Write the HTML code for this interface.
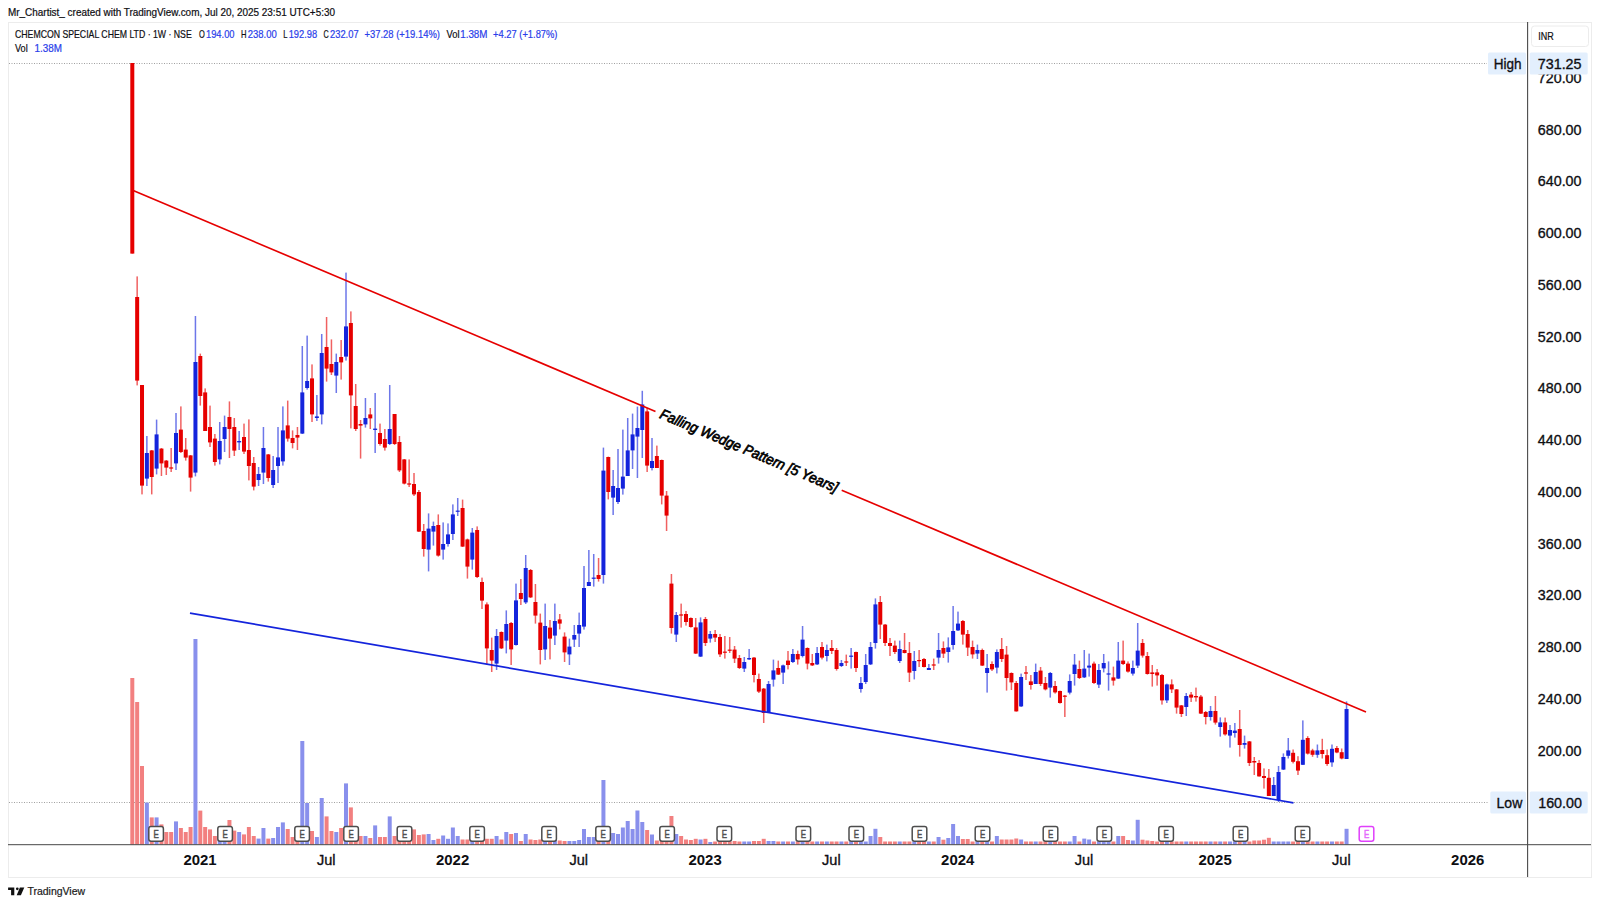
<!DOCTYPE html>
<html lang="en"><head><meta charset="utf-8"><title>CHEMCON SPECIAL CHEM LTD - 1W - NSE</title>
<style>html,body{margin:0;padding:0;background:#fff;width:1600px;height:906px;overflow:hidden}svg{display:block}text{white-space:pre}</style></head>
<body>
<svg width="1600" height="906" viewBox="0 0 1600 906" font-family='"Liberation Sans", sans-serif'>
<rect width="1600" height="906" fill="#fff"/>
<rect x="8.5" y="22.5" width="1583" height="855" fill="none" stroke="#ececec" stroke-width="1"/>
<g stroke="#a0a0a0" stroke-width="1" stroke-dasharray="1 1.5">
<line x1="9" y1="63.5" x2="1487" y2="63.5"/>
<line x1="9" y1="802.5" x2="1489" y2="802.5"/>
</g>
<g><rect x="130.30" y="678.0" width="4" height="166.5" fill="#f28080"/><rect x="135.16" y="702.0" width="4" height="142.5" fill="#f28080"/><rect x="140.01" y="766.0" width="4" height="78.5" fill="#f28080"/><rect x="144.87" y="802.6" width="4" height="41.9" fill="#8990ec"/><rect x="149.73" y="817.4" width="4" height="27.1" fill="#f28080"/><rect x="154.59" y="817.4" width="4" height="27.1" fill="#8990ec"/><rect x="159.44" y="824.4" width="4" height="20.1" fill="#f28080"/><rect x="164.30" y="832.0" width="4" height="12.5" fill="#f28080"/><rect x="169.16" y="832.0" width="4" height="12.5" fill="#f28080"/><rect x="174.01" y="821.4" width="4" height="23.1" fill="#8990ec"/><rect x="178.87" y="828.0" width="4" height="16.5" fill="#f28080"/><rect x="183.73" y="832.0" width="4" height="12.5" fill="#f28080"/><rect x="188.58" y="827.0" width="4" height="17.5" fill="#f28080"/><rect x="193.44" y="639.0" width="4" height="205.5" fill="#8990ec"/><rect x="198.30" y="810.6" width="4" height="33.9" fill="#f28080"/><rect x="203.16" y="827.0" width="4" height="17.5" fill="#f28080"/><rect x="208.01" y="829.4" width="4" height="15.1" fill="#f28080"/><rect x="212.87" y="836.0" width="4" height="8.5" fill="#f28080"/><rect x="217.73" y="836.0" width="4" height="8.5" fill="#8990ec"/><rect x="222.58" y="836.0" width="4" height="8.5" fill="#8990ec"/><rect x="227.44" y="820.0" width="4" height="24.5" fill="#f28080"/><rect x="232.30" y="830.6" width="4" height="13.9" fill="#f28080"/><rect x="237.15" y="832.0" width="4" height="12.5" fill="#8990ec"/><rect x="242.01" y="834.4" width="4" height="10.1" fill="#f28080"/><rect x="246.87" y="827.0" width="4" height="17.5" fill="#f28080"/><rect x="251.73" y="836.0" width="4" height="8.5" fill="#f28080"/><rect x="256.58" y="838.6" width="4" height="5.9" fill="#8990ec"/><rect x="261.44" y="828.0" width="4" height="16.5" fill="#8990ec"/><rect x="266.30" y="838.6" width="4" height="5.9" fill="#f28080"/><rect x="271.15" y="838.0" width="4" height="6.5" fill="#8990ec"/><rect x="276.01" y="827.0" width="4" height="17.5" fill="#8990ec"/><rect x="280.87" y="822.4" width="4" height="22.1" fill="#8990ec"/><rect x="285.72" y="829.0" width="4" height="15.5" fill="#f28080"/><rect x="290.58" y="837.0" width="4" height="7.5" fill="#f28080"/><rect x="295.44" y="838.0" width="4" height="6.5" fill="#f28080"/><rect x="300.30" y="741.0" width="4" height="103.5" fill="#8990ec"/><rect x="305.15" y="803.0" width="4" height="41.5" fill="#8990ec"/><rect x="310.01" y="831.0" width="4" height="13.5" fill="#f28080"/><rect x="314.87" y="837.0" width="4" height="7.5" fill="#8990ec"/><rect x="319.72" y="798.0" width="4" height="46.5" fill="#8990ec"/><rect x="324.58" y="816.4" width="4" height="28.1" fill="#f28080"/><rect x="329.44" y="831.0" width="4" height="13.5" fill="#f28080"/><rect x="334.29" y="832.0" width="4" height="12.5" fill="#8990ec"/><rect x="339.15" y="828.0" width="4" height="16.5" fill="#f28080"/><rect x="344.01" y="783.4" width="4" height="61.1" fill="#8990ec"/><rect x="348.87" y="807.4" width="4" height="37.1" fill="#f28080"/><rect x="353.72" y="830.0" width="4" height="14.5" fill="#f28080"/><rect x="358.58" y="836.0" width="4" height="8.5" fill="#f28080"/><rect x="363.44" y="836.0" width="4" height="8.5" fill="#8990ec"/><rect x="368.29" y="838.0" width="4" height="6.5" fill="#f28080"/><rect x="373.15" y="825.4" width="4" height="19.1" fill="#8990ec"/><rect x="378.01" y="837.0" width="4" height="7.5" fill="#f28080"/><rect x="382.86" y="837.0" width="4" height="7.5" fill="#f28080"/><rect x="387.72" y="816.4" width="4" height="28.1" fill="#8990ec"/><rect x="392.58" y="836.0" width="4" height="8.5" fill="#f28080"/><rect x="397.44" y="834.0" width="4" height="10.5" fill="#f28080"/><rect x="402.29" y="834.0" width="4" height="10.5" fill="#f28080"/><rect x="407.15" y="834.4" width="4" height="10.1" fill="#f28080"/><rect x="412.01" y="829.4" width="4" height="15.1" fill="#f28080"/><rect x="416.86" y="835.0" width="4" height="9.5" fill="#f28080"/><rect x="421.72" y="834.4" width="4" height="10.1" fill="#f28080"/><rect x="426.58" y="834.0" width="4" height="10.5" fill="#8990ec"/><rect x="431.43" y="840.0" width="4" height="4.5" fill="#8990ec"/><rect x="436.29" y="838.8" width="4" height="5.8" fill="#f28080"/><rect x="441.15" y="835.5" width="4" height="9.0" fill="#8990ec"/><rect x="446.01" y="838.8" width="4" height="5.8" fill="#8990ec"/><rect x="450.86" y="827.5" width="4" height="17.0" fill="#8990ec"/><rect x="455.72" y="836.0" width="4" height="8.5" fill="#8990ec"/><rect x="460.58" y="839.5" width="4" height="5.0" fill="#f28080"/><rect x="465.43" y="839.5" width="4" height="5.0" fill="#f28080"/><rect x="470.29" y="838.0" width="4" height="6.5" fill="#8990ec"/><rect x="475.15" y="838.0" width="4" height="6.5" fill="#f28080"/><rect x="480.00" y="838.0" width="4" height="6.5" fill="#f28080"/><rect x="484.86" y="838.8" width="4" height="5.8" fill="#f28080"/><rect x="489.72" y="838.8" width="4" height="5.8" fill="#f28080"/><rect x="494.58" y="836.0" width="4" height="8.5" fill="#8990ec"/><rect x="499.43" y="839.5" width="4" height="5.0" fill="#f28080"/><rect x="504.29" y="832.0" width="4" height="12.5" fill="#8990ec"/><rect x="509.15" y="834.0" width="4" height="10.5" fill="#f28080"/><rect x="514.00" y="833.0" width="4" height="11.5" fill="#8990ec"/><rect x="518.86" y="841.0" width="4" height="3.5" fill="#f28080"/><rect x="523.72" y="834.0" width="4" height="10.5" fill="#8990ec"/><rect x="528.57" y="839.5" width="4" height="5.0" fill="#f28080"/><rect x="533.43" y="840.0" width="4" height="4.5" fill="#f28080"/><rect x="538.29" y="839.5" width="4" height="5.0" fill="#f28080"/><rect x="543.14" y="838.0" width="4" height="6.5" fill="#8990ec"/><rect x="548.00" y="839.0" width="4" height="5.5" fill="#f28080"/><rect x="552.86" y="838.0" width="4" height="6.5" fill="#8990ec"/><rect x="557.72" y="840.5" width="4" height="4.0" fill="#f28080"/><rect x="562.57" y="841.0" width="4" height="3.5" fill="#f28080"/><rect x="567.43" y="841.0" width="4" height="3.5" fill="#8990ec"/><rect x="572.29" y="841.0" width="4" height="3.5" fill="#8990ec"/><rect x="577.14" y="840.0" width="4" height="4.5" fill="#8990ec"/><rect x="582.00" y="829.0" width="4" height="15.5" fill="#8990ec"/><rect x="586.86" y="837.0" width="4" height="7.5" fill="#8990ec"/><rect x="591.72" y="837.0" width="4" height="7.5" fill="#8990ec"/><rect x="596.57" y="838.0" width="4" height="6.5" fill="#f28080"/><rect x="601.43" y="780.0" width="4" height="64.5" fill="#8990ec"/><rect x="606.29" y="834.0" width="4" height="10.5" fill="#f28080"/><rect x="611.14" y="833.0" width="4" height="11.5" fill="#8990ec"/><rect x="616.00" y="834.0" width="4" height="10.5" fill="#8990ec"/><rect x="620.86" y="827.5" width="4" height="17.0" fill="#8990ec"/><rect x="625.71" y="821.0" width="4" height="23.5" fill="#8990ec"/><rect x="630.57" y="829.0" width="4" height="15.5" fill="#8990ec"/><rect x="635.43" y="810.5" width="4" height="34.0" fill="#8990ec"/><rect x="640.29" y="822.0" width="4" height="22.5" fill="#8990ec"/><rect x="645.14" y="830.0" width="4" height="14.5" fill="#f28080"/><rect x="650.00" y="834.5" width="4" height="10.0" fill="#8990ec"/><rect x="654.86" y="840.5" width="4" height="4.0" fill="#f28080"/><rect x="659.71" y="838.0" width="4" height="6.5" fill="#f28080"/><rect x="664.57" y="836.0" width="4" height="8.5" fill="#f28080"/><rect x="669.43" y="816.0" width="4" height="28.5" fill="#f28080"/><rect x="674.28" y="834.0" width="4" height="10.5" fill="#8990ec"/><rect x="679.14" y="836.0" width="4" height="8.5" fill="#f28080"/><rect x="684.00" y="839.5" width="4" height="5.0" fill="#f28080"/><rect x="688.86" y="840.0" width="4" height="4.5" fill="#f28080"/><rect x="693.71" y="838.8" width="4" height="5.8" fill="#f28080"/><rect x="698.57" y="839.5" width="4" height="5.0" fill="#8990ec"/><rect x="703.43" y="838.8" width="4" height="5.8" fill="#f28080"/><rect x="708.28" y="842.0" width="4" height="2.5" fill="#8990ec"/><rect x="713.14" y="841.5" width="4" height="3.0" fill="#f28080"/><rect x="718.00" y="841.5" width="4" height="3.0" fill="#f28080"/><rect x="722.85" y="841.5" width="4" height="3.0" fill="#f28080"/><rect x="727.71" y="841.5" width="4" height="3.0" fill="#f28080"/><rect x="732.57" y="841.0" width="4" height="3.5" fill="#f28080"/><rect x="737.42" y="841.5" width="4" height="3.0" fill="#f28080"/><rect x="742.28" y="841.5" width="4" height="3.0" fill="#8990ec"/><rect x="747.14" y="841.5" width="4" height="3.0" fill="#8990ec"/><rect x="752.00" y="841.0" width="4" height="3.5" fill="#f28080"/><rect x="756.85" y="841.0" width="4" height="3.5" fill="#f28080"/><rect x="761.71" y="838.8" width="4" height="5.8" fill="#f28080"/><rect x="766.57" y="841.0" width="4" height="3.5" fill="#8990ec"/><rect x="771.42" y="841.0" width="4" height="3.5" fill="#8990ec"/><rect x="776.28" y="841.5" width="4" height="3.0" fill="#f28080"/><rect x="781.14" y="841.5" width="4" height="3.0" fill="#8990ec"/><rect x="786.00" y="841.5" width="4" height="3.0" fill="#f28080"/><rect x="790.85" y="841.5" width="4" height="3.0" fill="#8990ec"/><rect x="795.71" y="841.5" width="4" height="3.0" fill="#f28080"/><rect x="800.57" y="841.5" width="4" height="3.0" fill="#8990ec"/><rect x="805.42" y="841.5" width="4" height="3.0" fill="#f28080"/><rect x="810.28" y="841.5" width="4" height="3.0" fill="#f28080"/><rect x="815.14" y="841.5" width="4" height="3.0" fill="#8990ec"/><rect x="819.99" y="841.5" width="4" height="3.0" fill="#f28080"/><rect x="824.85" y="841.5" width="4" height="3.0" fill="#8990ec"/><rect x="829.71" y="841.5" width="4" height="3.0" fill="#f28080"/><rect x="834.57" y="841.5" width="4" height="3.0" fill="#f28080"/><rect x="839.42" y="841.5" width="4" height="3.0" fill="#8990ec"/><rect x="844.28" y="841.5" width="4" height="3.0" fill="#f28080"/><rect x="849.14" y="841.5" width="4" height="3.0" fill="#8990ec"/><rect x="853.99" y="841.5" width="4" height="3.0" fill="#f28080"/><rect x="858.85" y="841.5" width="4" height="3.0" fill="#8990ec"/><rect x="863.71" y="841.5" width="4" height="3.0" fill="#8990ec"/><rect x="868.56" y="836.0" width="4" height="8.5" fill="#8990ec"/><rect x="873.42" y="828.8" width="4" height="15.7" fill="#8990ec"/><rect x="878.28" y="837.0" width="4" height="7.5" fill="#f28080"/><rect x="883.13" y="841.5" width="4" height="3.0" fill="#f28080"/><rect x="887.99" y="841.5" width="4" height="3.0" fill="#f28080"/><rect x="892.85" y="841.5" width="4" height="3.0" fill="#f28080"/><rect x="897.71" y="841.5" width="4" height="3.0" fill="#8990ec"/><rect x="902.56" y="841.5" width="4" height="3.0" fill="#f28080"/><rect x="907.42" y="841.5" width="4" height="3.0" fill="#f28080"/><rect x="912.28" y="841.5" width="4" height="3.0" fill="#8990ec"/><rect x="917.13" y="841.5" width="4" height="3.0" fill="#f28080"/><rect x="921.99" y="841.5" width="4" height="3.0" fill="#f28080"/><rect x="926.85" y="841.5" width="4" height="3.0" fill="#8990ec"/><rect x="931.71" y="841.5" width="4" height="3.0" fill="#f28080"/><rect x="936.56" y="837.0" width="4" height="7.5" fill="#8990ec"/><rect x="941.42" y="839.7" width="4" height="4.8" fill="#f28080"/><rect x="946.28" y="838.0" width="4" height="6.5" fill="#8990ec"/><rect x="951.13" y="824.0" width="4" height="20.5" fill="#8990ec"/><rect x="955.99" y="836.0" width="4" height="8.5" fill="#8990ec"/><rect x="960.85" y="839.0" width="4" height="5.5" fill="#f28080"/><rect x="965.70" y="839.0" width="4" height="5.5" fill="#f28080"/><rect x="970.56" y="841.5" width="4" height="3.0" fill="#f28080"/><rect x="975.42" y="841.5" width="4" height="3.0" fill="#8990ec"/><rect x="980.28" y="841.5" width="4" height="3.0" fill="#f28080"/><rect x="985.13" y="841.5" width="4" height="3.0" fill="#8990ec"/><rect x="989.99" y="841.5" width="4" height="3.0" fill="#f28080"/><rect x="994.85" y="836.0" width="4" height="8.5" fill="#8990ec"/><rect x="999.70" y="839.5" width="4" height="5.0" fill="#f28080"/><rect x="1004.56" y="839.5" width="4" height="5.0" fill="#f28080"/><rect x="1009.42" y="839.5" width="4" height="5.0" fill="#f28080"/><rect x="1014.27" y="838.5" width="4" height="6.0" fill="#f28080"/><rect x="1019.13" y="839.5" width="4" height="5.0" fill="#8990ec"/><rect x="1023.99" y="841.5" width="4" height="3.0" fill="#f28080"/><rect x="1028.85" y="841.5" width="4" height="3.0" fill="#f28080"/><rect x="1033.70" y="841.5" width="4" height="3.0" fill="#8990ec"/><rect x="1038.56" y="841.5" width="4" height="3.0" fill="#f28080"/><rect x="1043.42" y="841.5" width="4" height="3.0" fill="#f28080"/><rect x="1048.27" y="841.5" width="4" height="3.0" fill="#8990ec"/><rect x="1053.13" y="841.5" width="4" height="3.0" fill="#f28080"/><rect x="1057.99" y="841.5" width="4" height="3.0" fill="#f28080"/><rect x="1062.84" y="841.5" width="4" height="3.0" fill="#f28080"/><rect x="1067.70" y="841.5" width="4" height="3.0" fill="#8990ec"/><rect x="1072.56" y="836.0" width="4" height="8.5" fill="#8990ec"/><rect x="1077.41" y="841.5" width="4" height="3.0" fill="#f28080"/><rect x="1082.27" y="838.6" width="4" height="5.9" fill="#8990ec"/><rect x="1087.13" y="839.5" width="4" height="5.0" fill="#8990ec"/><rect x="1091.99" y="841.5" width="4" height="3.0" fill="#f28080"/><rect x="1096.84" y="841.5" width="4" height="3.0" fill="#8990ec"/><rect x="1101.70" y="841.5" width="4" height="3.0" fill="#8990ec"/><rect x="1106.56" y="841.5" width="4" height="3.0" fill="#8990ec"/><rect x="1111.41" y="841.5" width="4" height="3.0" fill="#f28080"/><rect x="1116.27" y="836.0" width="4" height="8.5" fill="#8990ec"/><rect x="1121.13" y="836.0" width="4" height="8.5" fill="#f28080"/><rect x="1125.99" y="840.0" width="4" height="4.5" fill="#f28080"/><rect x="1130.84" y="840.5" width="4" height="4.0" fill="#8990ec"/><rect x="1135.70" y="819.8" width="4" height="24.7" fill="#8990ec"/><rect x="1140.56" y="839.7" width="4" height="4.8" fill="#f28080"/><rect x="1145.41" y="840.5" width="4" height="4.0" fill="#f28080"/><rect x="1150.27" y="841.0" width="4" height="3.5" fill="#f28080"/><rect x="1155.13" y="841.5" width="4" height="3.0" fill="#f28080"/><rect x="1159.98" y="841.5" width="4" height="3.0" fill="#f28080"/><rect x="1164.84" y="841.5" width="4" height="3.0" fill="#8990ec"/><rect x="1169.70" y="841.5" width="4" height="3.0" fill="#f28080"/><rect x="1174.56" y="841.5" width="4" height="3.0" fill="#f28080"/><rect x="1179.41" y="841.5" width="4" height="3.0" fill="#f28080"/><rect x="1184.27" y="841.5" width="4" height="3.0" fill="#8990ec"/><rect x="1189.13" y="841.5" width="4" height="3.0" fill="#f28080"/><rect x="1193.98" y="841.5" width="4" height="3.0" fill="#f28080"/><rect x="1198.84" y="841.5" width="4" height="3.0" fill="#f28080"/><rect x="1203.70" y="841.5" width="4" height="3.0" fill="#f28080"/><rect x="1208.55" y="841.5" width="4" height="3.0" fill="#8990ec"/><rect x="1213.41" y="841.5" width="4" height="3.0" fill="#f28080"/><rect x="1218.27" y="841.5" width="4" height="3.0" fill="#8990ec"/><rect x="1223.12" y="841.5" width="4" height="3.0" fill="#f28080"/><rect x="1227.98" y="841.5" width="4" height="3.0" fill="#8990ec"/><rect x="1232.84" y="841.5" width="4" height="3.0" fill="#8990ec"/><rect x="1237.70" y="841.5" width="4" height="3.0" fill="#f28080"/><rect x="1242.55" y="841.5" width="4" height="3.0" fill="#8990ec"/><rect x="1247.41" y="841.5" width="4" height="3.0" fill="#f28080"/><rect x="1252.27" y="840.5" width="4" height="4.0" fill="#f28080"/><rect x="1257.12" y="840.5" width="4" height="4.0" fill="#f28080"/><rect x="1261.98" y="839.7" width="4" height="4.8" fill="#f28080"/><rect x="1266.84" y="837.8" width="4" height="6.7" fill="#f28080"/><rect x="1271.69" y="841.5" width="4" height="3.0" fill="#8990ec"/><rect x="1276.55" y="841.5" width="4" height="3.0" fill="#8990ec"/><rect x="1281.41" y="841.5" width="4" height="3.0" fill="#8990ec"/><rect x="1286.27" y="841.5" width="4" height="3.0" fill="#8990ec"/><rect x="1291.12" y="841.5" width="4" height="3.0" fill="#f28080"/><rect x="1295.98" y="841.5" width="4" height="3.0" fill="#f28080"/><rect x="1300.84" y="841.5" width="4" height="3.0" fill="#8990ec"/><rect x="1305.69" y="841.5" width="4" height="3.0" fill="#f28080"/><rect x="1310.55" y="841.5" width="4" height="3.0" fill="#f28080"/><rect x="1315.41" y="841.5" width="4" height="3.0" fill="#8990ec"/><rect x="1320.27" y="841.5" width="4" height="3.0" fill="#f28080"/><rect x="1325.12" y="841.5" width="4" height="3.0" fill="#f28080"/><rect x="1329.98" y="841.5" width="4" height="3.0" fill="#8990ec"/><rect x="1334.84" y="841.5" width="4" height="3.0" fill="#f28080"/><rect x="1339.69" y="841.5" width="4" height="3.0" fill="#f28080"/><rect x="1344.55" y="828.8" width="4" height="15.7" fill="#8990ec"/></g>
<g><rect x="131.55" y="63.0" width="1.5" height="190.6" fill="#e60000" opacity="0.62"/><rect x="136.41" y="276.4" width="1.5" height="109.0" fill="#e60000" opacity="0.62"/><rect x="141.26" y="385.0" width="1.5" height="109.4" fill="#e60000" opacity="0.62"/><rect x="146.12" y="436.0" width="1.5" height="50.0" fill="#1424dc" opacity="0.62"/><rect x="150.98" y="450.0" width="1.5" height="44.4" fill="#e60000" opacity="0.62"/><rect x="155.84" y="419.6" width="1.5" height="54.8" fill="#1424dc" opacity="0.62"/><rect x="160.69" y="448.0" width="1.5" height="28.0" fill="#e60000" opacity="0.62"/><rect x="165.55" y="460.0" width="1.5" height="15.0" fill="#e60000" opacity="0.62"/><rect x="170.41" y="448.0" width="1.5" height="24.0" fill="#e60000" opacity="0.62"/><rect x="175.26" y="413.0" width="1.5" height="57.0" fill="#1424dc" opacity="0.62"/><rect x="180.12" y="406.4" width="1.5" height="46.6" fill="#e60000" opacity="0.62"/><rect x="184.98" y="438.0" width="1.5" height="22.6" fill="#e60000" opacity="0.62"/><rect x="189.83" y="455.0" width="1.5" height="36.6" fill="#e60000" opacity="0.62"/><rect x="194.69" y="316.0" width="1.5" height="160.4" fill="#1424dc" opacity="0.62"/><rect x="199.55" y="353.6" width="1.5" height="52.0" fill="#e60000" opacity="0.62"/><rect x="204.41" y="388.4" width="1.5" height="42.6" fill="#e60000" opacity="0.62"/><rect x="209.26" y="405.6" width="1.5" height="41.4" fill="#e60000" opacity="0.62"/><rect x="214.12" y="434.0" width="1.5" height="31.6" fill="#e60000" opacity="0.62"/><rect x="218.98" y="422.0" width="1.5" height="42.4" fill="#1424dc" opacity="0.62"/><rect x="223.83" y="415.6" width="1.5" height="36.4" fill="#1424dc" opacity="0.62"/><rect x="228.69" y="401.4" width="1.5" height="56.6" fill="#e60000" opacity="0.62"/><rect x="233.55" y="418.0" width="1.5" height="38.0" fill="#e60000" opacity="0.62"/><rect x="238.40" y="431.0" width="1.5" height="19.0" fill="#1424dc" opacity="0.62"/><rect x="243.26" y="423.6" width="1.5" height="30.4" fill="#e60000" opacity="0.62"/><rect x="248.12" y="419.4" width="1.5" height="61.0" fill="#e60000" opacity="0.62"/><rect x="252.98" y="457.0" width="1.5" height="33.4" fill="#e60000" opacity="0.62"/><rect x="257.83" y="467.0" width="1.5" height="19.0" fill="#1424dc" opacity="0.62"/><rect x="262.69" y="427.0" width="1.5" height="57.0" fill="#1424dc" opacity="0.62"/><rect x="267.55" y="454.0" width="1.5" height="27.6" fill="#e60000" opacity="0.62"/><rect x="272.40" y="456.0" width="1.5" height="32.0" fill="#1424dc" opacity="0.62"/><rect x="277.26" y="427.0" width="1.5" height="56.0" fill="#1424dc" opacity="0.62"/><rect x="282.12" y="406.4" width="1.5" height="59.2" fill="#1424dc" opacity="0.62"/><rect x="286.97" y="400.6" width="1.5" height="41.0" fill="#e60000" opacity="0.62"/><rect x="291.83" y="430.4" width="1.5" height="18.0" fill="#e60000" opacity="0.62"/><rect x="296.69" y="427.0" width="1.5" height="23.0" fill="#e60000" opacity="0.62"/><rect x="301.55" y="346.0" width="1.5" height="88.0" fill="#1424dc" opacity="0.62"/><rect x="306.40" y="335.6" width="1.5" height="54.0" fill="#1424dc" opacity="0.62"/><rect x="311.26" y="364.4" width="1.5" height="57.6" fill="#e60000" opacity="0.62"/><rect x="316.12" y="395.0" width="1.5" height="26.0" fill="#1424dc" opacity="0.62"/><rect x="320.97" y="334.0" width="1.5" height="90.4" fill="#1424dc" opacity="0.62"/><rect x="325.83" y="317.0" width="1.5" height="64.6" fill="#e60000" opacity="0.62"/><rect x="330.69" y="339.4" width="1.5" height="35.6" fill="#e60000" opacity="0.62"/><rect x="335.54" y="353.6" width="1.5" height="39.4" fill="#1424dc" opacity="0.62"/><rect x="340.40" y="340.0" width="1.5" height="39.6" fill="#e60000" opacity="0.62"/><rect x="345.26" y="272.6" width="1.5" height="88.0" fill="#1424dc" opacity="0.62"/><rect x="350.12" y="311.4" width="1.5" height="117.0" fill="#e60000" opacity="0.62"/><rect x="354.97" y="384.0" width="1.5" height="47.0" fill="#e60000" opacity="0.62"/><rect x="359.83" y="420.0" width="1.5" height="38.6" fill="#e60000" opacity="0.62"/><rect x="364.69" y="398.0" width="1.5" height="29.6" fill="#1424dc" opacity="0.62"/><rect x="369.54" y="408.0" width="1.5" height="21.0" fill="#e60000" opacity="0.62"/><rect x="374.40" y="393.0" width="1.5" height="60.0" fill="#1424dc" opacity="0.62"/><rect x="379.26" y="423.6" width="1.5" height="22.0" fill="#e60000" opacity="0.62"/><rect x="384.11" y="429.0" width="1.5" height="21.6" fill="#e60000" opacity="0.62"/><rect x="388.97" y="385.0" width="1.5" height="60.0" fill="#1424dc" opacity="0.62"/><rect x="393.83" y="414.0" width="1.5" height="31.0" fill="#e60000" opacity="0.62"/><rect x="398.69" y="436.0" width="1.5" height="36.0" fill="#e60000" opacity="0.62"/><rect x="403.54" y="459.0" width="1.5" height="25.4" fill="#e60000" opacity="0.62"/><rect x="408.40" y="459.4" width="1.5" height="27.6" fill="#e60000" opacity="0.62"/><rect x="413.26" y="473.0" width="1.5" height="23.0" fill="#e60000" opacity="0.62"/><rect x="418.11" y="490.0" width="1.5" height="42.0" fill="#e60000" opacity="0.62"/><rect x="422.97" y="524.0" width="1.5" height="32.6" fill="#e60000" opacity="0.62"/><rect x="427.83" y="513.4" width="1.5" height="58.0" fill="#1424dc" opacity="0.62"/><rect x="432.68" y="521.6" width="1.5" height="24.0" fill="#1424dc" opacity="0.62"/><rect x="437.54" y="514.4" width="1.5" height="42.2" fill="#e60000" opacity="0.62"/><rect x="442.40" y="522.4" width="1.5" height="37.2" fill="#1424dc" opacity="0.62"/><rect x="447.26" y="523.4" width="1.5" height="23.2" fill="#1424dc" opacity="0.62"/><rect x="452.11" y="504.4" width="1.5" height="35.6" fill="#1424dc" opacity="0.62"/><rect x="456.97" y="498.0" width="1.5" height="18.0" fill="#1424dc" opacity="0.62"/><rect x="461.83" y="499.6" width="1.5" height="47.4" fill="#e60000" opacity="0.62"/><rect x="466.68" y="538.6" width="1.5" height="40.0" fill="#e60000" opacity="0.62"/><rect x="471.54" y="528.0" width="1.5" height="41.6" fill="#1424dc" opacity="0.62"/><rect x="476.40" y="526.4" width="1.5" height="51.6" fill="#e60000" opacity="0.62"/><rect x="481.25" y="577.6" width="1.5" height="31.4" fill="#e60000" opacity="0.62"/><rect x="486.11" y="602.4" width="1.5" height="62.6" fill="#e60000" opacity="0.62"/><rect x="490.97" y="637.6" width="1.5" height="34.4" fill="#e60000" opacity="0.62"/><rect x="495.83" y="629.0" width="1.5" height="41.0" fill="#1424dc" opacity="0.62"/><rect x="500.68" y="631.4" width="1.5" height="17.6" fill="#e60000" opacity="0.62"/><rect x="505.54" y="610.4" width="1.5" height="43.0" fill="#1424dc" opacity="0.62"/><rect x="510.40" y="622.0" width="1.5" height="43.0" fill="#e60000" opacity="0.62"/><rect x="515.25" y="583.6" width="1.5" height="62.0" fill="#1424dc" opacity="0.62"/><rect x="520.11" y="579.0" width="1.5" height="26.0" fill="#e60000" opacity="0.62"/><rect x="524.97" y="555.0" width="1.5" height="49.0" fill="#1424dc" opacity="0.62"/><rect x="529.82" y="569.0" width="1.5" height="29.0" fill="#e60000" opacity="0.62"/><rect x="534.68" y="584.0" width="1.5" height="39.6" fill="#e60000" opacity="0.62"/><rect x="539.54" y="613.6" width="1.5" height="50.8" fill="#e60000" opacity="0.62"/><rect x="544.39" y="603.6" width="1.5" height="56.4" fill="#1424dc" opacity="0.62"/><rect x="549.25" y="620.0" width="1.5" height="39.4" fill="#e60000" opacity="0.62"/><rect x="554.11" y="603.6" width="1.5" height="41.4" fill="#1424dc" opacity="0.62"/><rect x="558.97" y="614.0" width="1.5" height="15.4" fill="#e60000" opacity="0.62"/><rect x="563.82" y="632.4" width="1.5" height="29.6" fill="#e60000" opacity="0.62"/><rect x="568.68" y="638.6" width="1.5" height="26.4" fill="#1424dc" opacity="0.62"/><rect x="573.54" y="625.0" width="1.5" height="22.0" fill="#1424dc" opacity="0.62"/><rect x="578.39" y="612.6" width="1.5" height="34.4" fill="#1424dc" opacity="0.62"/><rect x="583.25" y="566.0" width="1.5" height="63.6" fill="#1424dc" opacity="0.62"/><rect x="588.11" y="550.0" width="1.5" height="36.0" fill="#1424dc" opacity="0.62"/><rect x="592.97" y="554.0" width="1.5" height="32.6" fill="#1424dc" opacity="0.62"/><rect x="597.82" y="558.0" width="1.5" height="23.6" fill="#e60000" opacity="0.62"/><rect x="602.68" y="447.6" width="1.5" height="136.0" fill="#1424dc" opacity="0.62"/><rect x="607.54" y="456.6" width="1.5" height="42.8" fill="#e60000" opacity="0.62"/><rect x="612.39" y="470.0" width="1.5" height="45.0" fill="#1424dc" opacity="0.62"/><rect x="617.25" y="449.0" width="1.5" height="55.0" fill="#1424dc" opacity="0.62"/><rect x="622.11" y="429.6" width="1.5" height="65.0" fill="#1424dc" opacity="0.62"/><rect x="626.96" y="418.0" width="1.5" height="58.0" fill="#1424dc" opacity="0.62"/><rect x="631.82" y="413.6" width="1.5" height="55.4" fill="#1424dc" opacity="0.62"/><rect x="636.68" y="406.6" width="1.5" height="71.4" fill="#1424dc" opacity="0.62"/><rect x="641.54" y="390.8" width="1.5" height="67.2" fill="#1424dc" opacity="0.62"/><rect x="646.39" y="408.0" width="1.5" height="64.0" fill="#e60000" opacity="0.62"/><rect x="651.25" y="438.0" width="1.5" height="32.4" fill="#1424dc" opacity="0.62"/><rect x="656.11" y="445.6" width="1.5" height="22.4" fill="#e60000" opacity="0.62"/><rect x="660.96" y="459.6" width="1.5" height="44.8" fill="#e60000" opacity="0.62"/><rect x="665.82" y="491.0" width="1.5" height="40.0" fill="#e60000" opacity="0.62"/><rect x="670.68" y="574.0" width="1.5" height="59.6" fill="#e60000" opacity="0.62"/><rect x="675.53" y="612.0" width="1.5" height="30.0" fill="#1424dc" opacity="0.62"/><rect x="680.39" y="603.6" width="1.5" height="24.0" fill="#e60000" opacity="0.62"/><rect x="685.25" y="611.0" width="1.5" height="14.6" fill="#e60000" opacity="0.62"/><rect x="690.11" y="617.4" width="1.5" height="10.2" fill="#e60000" opacity="0.62"/><rect x="694.96" y="618.0" width="1.5" height="36.0" fill="#e60000" opacity="0.62"/><rect x="699.82" y="617.4" width="1.5" height="39.6" fill="#1424dc" opacity="0.62"/><rect x="704.68" y="617.0" width="1.5" height="29.0" fill="#e60000" opacity="0.62"/><rect x="709.53" y="631.0" width="1.5" height="11.6" fill="#1424dc" opacity="0.62"/><rect x="714.39" y="630.0" width="1.5" height="12.0" fill="#e60000" opacity="0.62"/><rect x="719.25" y="634.0" width="1.5" height="23.0" fill="#e60000" opacity="0.62"/><rect x="724.10" y="636.0" width="1.5" height="22.6" fill="#e60000" opacity="0.62"/><rect x="728.96" y="637.0" width="1.5" height="16.0" fill="#e60000" opacity="0.62"/><rect x="733.82" y="646.0" width="1.5" height="17.0" fill="#e60000" opacity="0.62"/><rect x="738.67" y="655.0" width="1.5" height="14.0" fill="#e60000" opacity="0.62"/><rect x="743.53" y="657.0" width="1.5" height="15.0" fill="#1424dc" opacity="0.62"/><rect x="748.39" y="649.0" width="1.5" height="11.0" fill="#1424dc" opacity="0.62"/><rect x="753.25" y="657.0" width="1.5" height="25.4" fill="#e60000" opacity="0.62"/><rect x="758.10" y="673.6" width="1.5" height="19.4" fill="#e60000" opacity="0.62"/><rect x="762.96" y="688.0" width="1.5" height="35.0" fill="#e60000" opacity="0.62"/><rect x="767.82" y="681.0" width="1.5" height="32.0" fill="#1424dc" opacity="0.62"/><rect x="772.67" y="659.6" width="1.5" height="27.0" fill="#1424dc" opacity="0.62"/><rect x="777.53" y="660.6" width="1.5" height="14.4" fill="#e60000" opacity="0.62"/><rect x="782.39" y="664.6" width="1.5" height="19.4" fill="#1424dc" opacity="0.62"/><rect x="787.25" y="651.0" width="1.5" height="18.4" fill="#e60000" opacity="0.62"/><rect x="792.10" y="649.0" width="1.5" height="14.0" fill="#1424dc" opacity="0.62"/><rect x="796.96" y="650.6" width="1.5" height="14.0" fill="#e60000" opacity="0.62"/><rect x="801.82" y="626.0" width="1.5" height="31.4" fill="#1424dc" opacity="0.62"/><rect x="806.67" y="647.4" width="1.5" height="22.0" fill="#e60000" opacity="0.62"/><rect x="811.53" y="654.0" width="1.5" height="12.0" fill="#e60000" opacity="0.62"/><rect x="816.39" y="647.0" width="1.5" height="18.0" fill="#1424dc" opacity="0.62"/><rect x="821.24" y="642.0" width="1.5" height="17.4" fill="#e60000" opacity="0.62"/><rect x="826.10" y="644.6" width="1.5" height="16.8" fill="#1424dc" opacity="0.62"/><rect x="830.96" y="640.0" width="1.5" height="14.0" fill="#e60000" opacity="0.62"/><rect x="835.82" y="648.0" width="1.5" height="22.6" fill="#e60000" opacity="0.62"/><rect x="840.67" y="660.0" width="1.5" height="7.0" fill="#1424dc" opacity="0.62"/><rect x="845.53" y="654.6" width="1.5" height="11.4" fill="#e60000" opacity="0.62"/><rect x="850.39" y="648.0" width="1.5" height="20.6" fill="#1424dc" opacity="0.62"/><rect x="855.24" y="651.6" width="1.5" height="20.4" fill="#e60000" opacity="0.62"/><rect x="860.10" y="677.0" width="1.5" height="15.6" fill="#1424dc" opacity="0.62"/><rect x="864.96" y="654.0" width="1.5" height="30.0" fill="#1424dc" opacity="0.62"/><rect x="869.81" y="642.0" width="1.5" height="23.0" fill="#1424dc" opacity="0.62"/><rect x="874.67" y="598.4" width="1.5" height="50.2" fill="#1424dc" opacity="0.62"/><rect x="879.53" y="596.0" width="1.5" height="43.0" fill="#e60000" opacity="0.62"/><rect x="884.38" y="624.0" width="1.5" height="22.0" fill="#e60000" opacity="0.62"/><rect x="889.24" y="638.0" width="1.5" height="18.0" fill="#e60000" opacity="0.62"/><rect x="894.10" y="640.6" width="1.5" height="13.4" fill="#e60000" opacity="0.62"/><rect x="898.96" y="640.6" width="1.5" height="22.4" fill="#1424dc" opacity="0.62"/><rect x="903.81" y="633.0" width="1.5" height="20.4" fill="#e60000" opacity="0.62"/><rect x="908.67" y="642.0" width="1.5" height="40.0" fill="#e60000" opacity="0.62"/><rect x="913.53" y="651.0" width="1.5" height="28.4" fill="#1424dc" opacity="0.62"/><rect x="918.38" y="650.0" width="1.5" height="17.0" fill="#e60000" opacity="0.62"/><rect x="923.24" y="658.0" width="1.5" height="9.4" fill="#e60000" opacity="0.62"/><rect x="928.10" y="664.0" width="1.5" height="6.0" fill="#1424dc" opacity="0.62"/><rect x="932.96" y="658.6" width="1.5" height="11.4" fill="#e60000" opacity="0.62"/><rect x="937.81" y="633.0" width="1.5" height="30.6" fill="#1424dc" opacity="0.62"/><rect x="942.67" y="641.4" width="1.5" height="16.6" fill="#e60000" opacity="0.62"/><rect x="947.53" y="637.4" width="1.5" height="25.2" fill="#1424dc" opacity="0.62"/><rect x="952.38" y="606.0" width="1.5" height="43.6" fill="#1424dc" opacity="0.62"/><rect x="957.24" y="611.6" width="1.5" height="19.4" fill="#1424dc" opacity="0.62"/><rect x="962.10" y="620.0" width="1.5" height="24.6" fill="#e60000" opacity="0.62"/><rect x="966.95" y="630.0" width="1.5" height="26.0" fill="#e60000" opacity="0.62"/><rect x="971.81" y="640.6" width="1.5" height="18.0" fill="#e60000" opacity="0.62"/><rect x="976.67" y="644.6" width="1.5" height="14.4" fill="#1424dc" opacity="0.62"/><rect x="981.53" y="648.6" width="1.5" height="17.4" fill="#e60000" opacity="0.62"/><rect x="986.38" y="654.0" width="1.5" height="38.6" fill="#1424dc" opacity="0.62"/><rect x="991.24" y="661.4" width="1.5" height="9.6" fill="#e60000" opacity="0.62"/><rect x="996.10" y="649.4" width="1.5" height="24.0" fill="#1424dc" opacity="0.62"/><rect x="1000.95" y="638.0" width="1.5" height="24.0" fill="#e60000" opacity="0.62"/><rect x="1005.81" y="646.0" width="1.5" height="44.6" fill="#e60000" opacity="0.62"/><rect x="1010.67" y="672.4" width="1.5" height="17.6" fill="#e60000" opacity="0.62"/><rect x="1015.52" y="681.0" width="1.5" height="30.6" fill="#e60000" opacity="0.62"/><rect x="1020.38" y="673.6" width="1.5" height="33.4" fill="#1424dc" opacity="0.62"/><rect x="1025.24" y="666.0" width="1.5" height="14.0" fill="#e60000" opacity="0.62"/><rect x="1030.10" y="675.0" width="1.5" height="14.6" fill="#e60000" opacity="0.62"/><rect x="1034.95" y="663.6" width="1.5" height="20.4" fill="#1424dc" opacity="0.62"/><rect x="1039.81" y="667.0" width="1.5" height="19.0" fill="#e60000" opacity="0.62"/><rect x="1044.67" y="677.0" width="1.5" height="13.4" fill="#e60000" opacity="0.62"/><rect x="1049.52" y="672.0" width="1.5" height="25.6" fill="#1424dc" opacity="0.62"/><rect x="1054.38" y="681.0" width="1.5" height="12.6" fill="#e60000" opacity="0.62"/><rect x="1059.24" y="690.6" width="1.5" height="13.0" fill="#e60000" opacity="0.62"/><rect x="1064.09" y="695.0" width="1.5" height="22.0" fill="#e60000" opacity="0.62"/><rect x="1068.95" y="674.4" width="1.5" height="20.0" fill="#1424dc" opacity="0.62"/><rect x="1073.81" y="654.0" width="1.5" height="31.6" fill="#1424dc" opacity="0.62"/><rect x="1078.66" y="660.6" width="1.5" height="18.4" fill="#e60000" opacity="0.62"/><rect x="1083.52" y="650.0" width="1.5" height="28.0" fill="#1424dc" opacity="0.62"/><rect x="1088.38" y="653.6" width="1.5" height="23.0" fill="#1424dc" opacity="0.62"/><rect x="1093.24" y="661.6" width="1.5" height="22.4" fill="#e60000" opacity="0.62"/><rect x="1098.09" y="664.0" width="1.5" height="24.0" fill="#1424dc" opacity="0.62"/><rect x="1102.95" y="654.0" width="1.5" height="18.4" fill="#1424dc" opacity="0.62"/><rect x="1107.81" y="661.4" width="1.5" height="29.2" fill="#1424dc" opacity="0.62"/><rect x="1112.66" y="666.6" width="1.5" height="19.0" fill="#e60000" opacity="0.62"/><rect x="1117.52" y="642.0" width="1.5" height="37.0" fill="#1424dc" opacity="0.62"/><rect x="1122.38" y="640.6" width="1.5" height="24.4" fill="#e60000" opacity="0.62"/><rect x="1127.24" y="661.4" width="1.5" height="11.2" fill="#e60000" opacity="0.62"/><rect x="1132.09" y="660.6" width="1.5" height="15.0" fill="#1424dc" opacity="0.62"/><rect x="1136.95" y="623.0" width="1.5" height="45.0" fill="#1424dc" opacity="0.62"/><rect x="1141.81" y="639.0" width="1.5" height="18.6" fill="#e60000" opacity="0.62"/><rect x="1146.66" y="652.0" width="1.5" height="22.6" fill="#e60000" opacity="0.62"/><rect x="1151.52" y="665.0" width="1.5" height="21.6" fill="#e60000" opacity="0.62"/><rect x="1156.38" y="669.0" width="1.5" height="16.6" fill="#e60000" opacity="0.62"/><rect x="1161.23" y="674.0" width="1.5" height="30.6" fill="#e60000" opacity="0.62"/><rect x="1166.09" y="683.6" width="1.5" height="19.4" fill="#1424dc" opacity="0.62"/><rect x="1170.95" y="679.4" width="1.5" height="13.6" fill="#e60000" opacity="0.62"/><rect x="1175.81" y="689.0" width="1.5" height="24.6" fill="#e60000" opacity="0.62"/><rect x="1180.66" y="705.0" width="1.5" height="12.0" fill="#e60000" opacity="0.62"/><rect x="1185.52" y="693.0" width="1.5" height="23.0" fill="#1424dc" opacity="0.62"/><rect x="1190.38" y="692.0" width="1.5" height="10.0" fill="#e60000" opacity="0.62"/><rect x="1195.23" y="687.6" width="1.5" height="14.0" fill="#e60000" opacity="0.62"/><rect x="1200.09" y="695.0" width="1.5" height="19.0" fill="#e60000" opacity="0.62"/><rect x="1204.95" y="711.0" width="1.5" height="13.4" fill="#e60000" opacity="0.62"/><rect x="1209.80" y="706.0" width="1.5" height="14.6" fill="#1424dc" opacity="0.62"/><rect x="1214.66" y="696.0" width="1.5" height="28.6" fill="#e60000" opacity="0.62"/><rect x="1219.52" y="717.4" width="1.5" height="19.2" fill="#1424dc" opacity="0.62"/><rect x="1224.38" y="717.6" width="1.5" height="18.0" fill="#e60000" opacity="0.62"/><rect x="1229.23" y="725.0" width="1.5" height="22.6" fill="#1424dc" opacity="0.62"/><rect x="1234.09" y="723.0" width="1.5" height="14.6" fill="#1424dc" opacity="0.62"/><rect x="1238.95" y="710.0" width="1.5" height="46.6" fill="#e60000" opacity="0.62"/><rect x="1243.80" y="735.6" width="1.5" height="13.0" fill="#1424dc" opacity="0.62"/><rect x="1248.66" y="741.0" width="1.5" height="25.0" fill="#e60000" opacity="0.62"/><rect x="1253.52" y="757.0" width="1.5" height="18.0" fill="#e60000" opacity="0.62"/><rect x="1258.37" y="760.0" width="1.5" height="16.6" fill="#e60000" opacity="0.62"/><rect x="1263.23" y="768.4" width="1.5" height="20.2" fill="#e60000" opacity="0.62"/><rect x="1268.09" y="769.0" width="1.5" height="27.0" fill="#e60000" opacity="0.62"/><rect x="1272.94" y="777.0" width="1.5" height="19.0" fill="#1424dc" opacity="0.62"/><rect x="1277.80" y="766.0" width="1.5" height="36.0" fill="#1424dc" opacity="0.62"/><rect x="1282.66" y="753.4" width="1.5" height="16.6" fill="#1424dc" opacity="0.62"/><rect x="1287.52" y="738.0" width="1.5" height="20.5" fill="#1424dc" opacity="0.62"/><rect x="1292.37" y="749.5" width="1.5" height="13.9" fill="#e60000" opacity="0.62"/><rect x="1297.23" y="756.2" width="1.5" height="18.8" fill="#e60000" opacity="0.62"/><rect x="1302.09" y="720.4" width="1.5" height="44.6" fill="#1424dc" opacity="0.62"/><rect x="1306.94" y="736.2" width="1.5" height="18.3" fill="#e60000" opacity="0.62"/><rect x="1311.80" y="748.8" width="1.5" height="8.0" fill="#e60000" opacity="0.62"/><rect x="1316.66" y="744.5" width="1.5" height="13.3" fill="#1424dc" opacity="0.62"/><rect x="1321.52" y="738.8" width="1.5" height="19.7" fill="#e60000" opacity="0.62"/><rect x="1326.37" y="749.5" width="1.5" height="16.3" fill="#e60000" opacity="0.62"/><rect x="1331.23" y="744.5" width="1.5" height="22.3" fill="#1424dc" opacity="0.62"/><rect x="1336.09" y="746.0" width="1.5" height="7.2" fill="#e60000" opacity="0.62"/><rect x="1340.94" y="748.5" width="1.5" height="10.8" fill="#e60000" opacity="0.62"/><rect x="1345.80" y="701.4" width="1.5" height="57.6" fill="#1424dc" opacity="0.62"/></g>
<g><rect x="130.30" y="63.0" width="4" height="190.6" fill="#e60000"/><rect x="135.16" y="297.0" width="4" height="83.6" fill="#e60000"/><rect x="140.01" y="385.0" width="4" height="100.6" fill="#e60000"/><rect x="144.87" y="453.0" width="4" height="25.6" fill="#1424dc"/><rect x="149.73" y="450.4" width="4" height="26.6" fill="#e60000"/><rect x="154.59" y="434.4" width="4" height="34.2" fill="#1424dc"/><rect x="159.44" y="448.6" width="4" height="14.8" fill="#e60000"/><rect x="164.30" y="460.6" width="4" height="7.0" fill="#e60000"/><rect x="169.16" y="467.4" width="4" height="1.2" fill="#e60000"/><rect x="174.01" y="433.0" width="4" height="30.4" fill="#1424dc"/><rect x="178.87" y="429.6" width="4" height="22.4" fill="#e60000"/><rect x="183.73" y="449.6" width="4" height="8.0" fill="#e60000"/><rect x="188.58" y="455.4" width="4" height="22.2" fill="#e60000"/><rect x="193.44" y="362.0" width="4" height="110.6" fill="#1424dc"/><rect x="198.30" y="356.0" width="4" height="40.0" fill="#e60000"/><rect x="203.16" y="392.4" width="4" height="38.6" fill="#e60000"/><rect x="208.01" y="427.0" width="4" height="15.4" fill="#e60000"/><rect x="212.87" y="438.6" width="4" height="23.4" fill="#e60000"/><rect x="217.73" y="441.0" width="4" height="18.4" fill="#1424dc"/><rect x="222.58" y="427.0" width="4" height="12.0" fill="#1424dc"/><rect x="227.44" y="417.0" width="4" height="12.0" fill="#e60000"/><rect x="232.30" y="427.0" width="4" height="23.6" fill="#e60000"/><rect x="237.15" y="441.0" width="4" height="1.4" fill="#1424dc"/><rect x="242.01" y="437.0" width="4" height="14.6" fill="#e60000"/><rect x="246.87" y="450.0" width="4" height="16.0" fill="#e60000"/><rect x="251.73" y="463.0" width="4" height="23.6" fill="#e60000"/><rect x="256.58" y="474.0" width="4" height="6.0" fill="#1424dc"/><rect x="261.44" y="448.0" width="4" height="24.6" fill="#1424dc"/><rect x="266.30" y="454.4" width="4" height="23.6" fill="#e60000"/><rect x="271.15" y="470.0" width="4" height="15.0" fill="#1424dc"/><rect x="276.01" y="457.4" width="4" height="8.6" fill="#1424dc"/><rect x="280.87" y="430.4" width="4" height="31.0" fill="#1424dc"/><rect x="285.72" y="425.4" width="4" height="13.2" fill="#e60000"/><rect x="290.58" y="438.0" width="4" height="5.0" fill="#e60000"/><rect x="295.44" y="435.0" width="4" height="2.6" fill="#e60000"/><rect x="300.30" y="392.4" width="4" height="41.2" fill="#1424dc"/><rect x="305.15" y="381.0" width="4" height="7.0" fill="#1424dc"/><rect x="310.01" y="378.4" width="4" height="36.0" fill="#e60000"/><rect x="314.87" y="416.4" width="4" height="1.6" fill="#1424dc"/><rect x="319.72" y="353.0" width="4" height="61.4" fill="#1424dc"/><rect x="324.58" y="347.0" width="4" height="21.6" fill="#e60000"/><rect x="329.44" y="364.0" width="4" height="8.4" fill="#e60000"/><rect x="334.29" y="362.0" width="4" height="13.6" fill="#1424dc"/><rect x="339.15" y="357.0" width="4" height="5.4" fill="#e60000"/><rect x="344.01" y="326.4" width="4" height="30.2" fill="#1424dc"/><rect x="348.87" y="323.0" width="4" height="72.4" fill="#e60000"/><rect x="353.72" y="406.0" width="4" height="23.0" fill="#e60000"/><rect x="358.58" y="424.0" width="4" height="1.6" fill="#e60000"/><rect x="363.44" y="418.0" width="4" height="6.4" fill="#1424dc"/><rect x="368.29" y="414.4" width="4" height="4.0" fill="#e60000"/><rect x="373.15" y="428.6" width="4" height="1.4" fill="#1424dc"/><rect x="378.01" y="433.0" width="4" height="11.0" fill="#e60000"/><rect x="382.86" y="439.0" width="4" height="8.6" fill="#e60000"/><rect x="387.72" y="429.0" width="4" height="15.0" fill="#1424dc"/><rect x="392.58" y="414.0" width="4" height="30.0" fill="#e60000"/><rect x="397.44" y="442.0" width="4" height="28.4" fill="#e60000"/><rect x="402.29" y="459.4" width="4" height="24.2" fill="#e60000"/><rect x="407.15" y="483.4" width="4" height="1.2" fill="#e60000"/><rect x="412.01" y="484.0" width="4" height="10.4" fill="#e60000"/><rect x="416.86" y="492.0" width="4" height="39.6" fill="#e60000"/><rect x="421.72" y="531.0" width="4" height="18.0" fill="#e60000"/><rect x="426.58" y="528.6" width="4" height="21.0" fill="#1424dc"/><rect x="431.43" y="526.0" width="4" height="5.6" fill="#1424dc"/><rect x="436.29" y="525.0" width="4" height="30.6" fill="#e60000"/><rect x="441.15" y="544.0" width="4" height="5.6" fill="#1424dc"/><rect x="446.01" y="534.4" width="4" height="9.6" fill="#1424dc"/><rect x="450.86" y="514.4" width="4" height="19.6" fill="#1424dc"/><rect x="455.72" y="510.6" width="4" height="1.2" fill="#1424dc"/><rect x="460.58" y="508.0" width="4" height="38.6" fill="#e60000"/><rect x="465.43" y="539.4" width="4" height="27.2" fill="#e60000"/><rect x="470.29" y="532.6" width="4" height="27.0" fill="#1424dc"/><rect x="475.15" y="530.0" width="4" height="47.0" fill="#e60000"/><rect x="480.00" y="582.0" width="4" height="18.6" fill="#e60000"/><rect x="484.86" y="604.4" width="4" height="44.0" fill="#e60000"/><rect x="489.72" y="650.0" width="4" height="10.6" fill="#e60000"/><rect x="494.58" y="636.0" width="4" height="27.6" fill="#1424dc"/><rect x="499.43" y="632.0" width="4" height="16.4" fill="#e60000"/><rect x="504.29" y="624.0" width="4" height="16.6" fill="#1424dc"/><rect x="509.15" y="623.0" width="4" height="26.4" fill="#e60000"/><rect x="514.00" y="600.4" width="4" height="44.6" fill="#1424dc"/><rect x="518.86" y="593.0" width="4" height="6.0" fill="#e60000"/><rect x="523.72" y="568.0" width="4" height="34.4" fill="#1424dc"/><rect x="528.57" y="570.0" width="4" height="27.4" fill="#e60000"/><rect x="533.43" y="602.0" width="4" height="13.6" fill="#e60000"/><rect x="538.29" y="622.6" width="4" height="27.4" fill="#e60000"/><rect x="543.14" y="626.0" width="4" height="23.4" fill="#1424dc"/><rect x="548.00" y="627.6" width="4" height="11.0" fill="#e60000"/><rect x="552.86" y="621.0" width="4" height="14.6" fill="#1424dc"/><rect x="557.72" y="619.4" width="4" height="4.2" fill="#e60000"/><rect x="562.57" y="636.6" width="4" height="15.8" fill="#e60000"/><rect x="567.43" y="646.6" width="4" height="7.8" fill="#1424dc"/><rect x="572.29" y="635.0" width="4" height="4.6" fill="#1424dc"/><rect x="577.14" y="625.0" width="4" height="8.6" fill="#1424dc"/><rect x="582.00" y="588.0" width="4" height="38.6" fill="#1424dc"/><rect x="586.86" y="582.0" width="4" height="4.0" fill="#1424dc"/><rect x="591.72" y="577.6" width="4" height="1.2" fill="#1424dc"/><rect x="596.57" y="575.0" width="4" height="4.0" fill="#e60000"/><rect x="601.43" y="470.6" width="4" height="104.4" fill="#1424dc"/><rect x="606.29" y="457.0" width="4" height="35.0" fill="#e60000"/><rect x="611.14" y="486.0" width="4" height="11.6" fill="#1424dc"/><rect x="616.00" y="488.0" width="4" height="14.0" fill="#1424dc"/><rect x="620.86" y="476.6" width="4" height="12.0" fill="#1424dc"/><rect x="625.71" y="450.4" width="4" height="25.6" fill="#1424dc"/><rect x="630.57" y="434.4" width="4" height="16.0" fill="#1424dc"/><rect x="635.43" y="428.0" width="4" height="8.6" fill="#1424dc"/><rect x="640.29" y="404.5" width="4" height="25.5" fill="#1424dc"/><rect x="645.14" y="411.4" width="4" height="54.2" fill="#e60000"/><rect x="650.00" y="461.0" width="4" height="7.0" fill="#1424dc"/><rect x="654.86" y="456.0" width="4" height="12.0" fill="#e60000"/><rect x="659.71" y="460.0" width="4" height="35.6" fill="#e60000"/><rect x="664.57" y="495.6" width="4" height="20.0" fill="#e60000"/><rect x="669.43" y="583.6" width="4" height="44.4" fill="#e60000"/><rect x="674.28" y="615.0" width="4" height="19.6" fill="#1424dc"/><rect x="679.14" y="614.4" width="4" height="1.2" fill="#e60000"/><rect x="684.00" y="614.0" width="4" height="8.0" fill="#e60000"/><rect x="688.86" y="618.0" width="4" height="9.0" fill="#e60000"/><rect x="693.71" y="627.4" width="4" height="26.2" fill="#e60000"/><rect x="698.57" y="622.4" width="4" height="34.2" fill="#1424dc"/><rect x="703.43" y="619.0" width="4" height="24.0" fill="#e60000"/><rect x="708.28" y="634.0" width="4" height="4.6" fill="#1424dc"/><rect x="713.14" y="634.0" width="4" height="3.6" fill="#e60000"/><rect x="718.00" y="637.0" width="4" height="17.4" fill="#e60000"/><rect x="722.85" y="651.6" width="4" height="1.2" fill="#e60000"/><rect x="727.71" y="649.6" width="4" height="1.2" fill="#e60000"/><rect x="732.57" y="649.6" width="4" height="9.0" fill="#e60000"/><rect x="737.42" y="658.0" width="4" height="10.0" fill="#e60000"/><rect x="742.28" y="662.0" width="4" height="6.6" fill="#1424dc"/><rect x="747.14" y="658.0" width="4" height="1.4" fill="#1424dc"/><rect x="752.00" y="657.6" width="4" height="17.4" fill="#e60000"/><rect x="756.85" y="679.0" width="4" height="12.6" fill="#e60000"/><rect x="761.71" y="688.6" width="4" height="24.4" fill="#e60000"/><rect x="766.57" y="684.0" width="4" height="28.0" fill="#1424dc"/><rect x="771.42" y="670.4" width="4" height="9.2" fill="#1424dc"/><rect x="776.28" y="668.0" width="4" height="6.6" fill="#e60000"/><rect x="781.14" y="665.4" width="4" height="7.2" fill="#1424dc"/><rect x="786.00" y="660.6" width="4" height="4.4" fill="#e60000"/><rect x="790.85" y="654.0" width="4" height="8.0" fill="#1424dc"/><rect x="795.71" y="654.0" width="4" height="5.4" fill="#e60000"/><rect x="800.57" y="639.6" width="4" height="16.4" fill="#1424dc"/><rect x="805.42" y="648.0" width="4" height="15.6" fill="#e60000"/><rect x="810.28" y="663.0" width="4" height="2.4" fill="#e60000"/><rect x="815.14" y="653.0" width="4" height="11.4" fill="#1424dc"/><rect x="819.99" y="647.0" width="4" height="10.6" fill="#e60000"/><rect x="824.85" y="650.0" width="4" height="6.0" fill="#1424dc"/><rect x="829.71" y="648.0" width="4" height="3.0" fill="#e60000"/><rect x="834.57" y="650.0" width="4" height="19.0" fill="#e60000"/><rect x="839.42" y="663.0" width="4" height="3.0" fill="#1424dc"/><rect x="844.28" y="661.4" width="4" height="1.2" fill="#e60000"/><rect x="849.14" y="655.6" width="4" height="1.2" fill="#1424dc"/><rect x="853.99" y="652.0" width="4" height="16.0" fill="#e60000"/><rect x="858.85" y="683.0" width="4" height="6.0" fill="#1424dc"/><rect x="863.71" y="665.0" width="4" height="17.0" fill="#1424dc"/><rect x="868.56" y="647.0" width="4" height="17.4" fill="#1424dc"/><rect x="873.42" y="604.4" width="4" height="38.6" fill="#1424dc"/><rect x="878.28" y="602.0" width="4" height="22.6" fill="#e60000"/><rect x="883.13" y="624.6" width="4" height="18.4" fill="#e60000"/><rect x="887.99" y="643.0" width="4" height="3.0" fill="#e60000"/><rect x="892.85" y="645.6" width="4" height="6.4" fill="#e60000"/><rect x="897.71" y="649.0" width="4" height="12.0" fill="#1424dc"/><rect x="902.56" y="650.0" width="4" height="3.0" fill="#e60000"/><rect x="907.42" y="653.0" width="4" height="19.6" fill="#e60000"/><rect x="912.28" y="661.0" width="4" height="10.0" fill="#1424dc"/><rect x="917.13" y="660.0" width="4" height="1.2" fill="#e60000"/><rect x="921.99" y="659.0" width="4" height="8.0" fill="#e60000"/><rect x="926.85" y="668.0" width="4" height="2.0" fill="#1424dc"/><rect x="931.71" y="664.4" width="4" height="1.2" fill="#e60000"/><rect x="936.56" y="650.0" width="4" height="7.6" fill="#1424dc"/><rect x="941.42" y="648.0" width="4" height="5.6" fill="#e60000"/><rect x="946.28" y="647.4" width="4" height="4.6" fill="#1424dc"/><rect x="951.13" y="631.0" width="4" height="14.0" fill="#1424dc"/><rect x="955.99" y="623.6" width="4" height="6.8" fill="#1424dc"/><rect x="960.85" y="621.0" width="4" height="13.6" fill="#e60000"/><rect x="965.70" y="634.0" width="4" height="13.6" fill="#e60000"/><rect x="970.56" y="647.0" width="4" height="7.4" fill="#e60000"/><rect x="975.42" y="650.0" width="4" height="3.6" fill="#1424dc"/><rect x="980.28" y="650.0" width="4" height="15.6" fill="#e60000"/><rect x="985.13" y="668.0" width="4" height="5.0" fill="#1424dc"/><rect x="989.99" y="664.0" width="4" height="5.4" fill="#e60000"/><rect x="994.85" y="652.0" width="4" height="15.6" fill="#1424dc"/><rect x="999.70" y="649.0" width="4" height="10.0" fill="#e60000"/><rect x="1004.56" y="654.6" width="4" height="23.4" fill="#e60000"/><rect x="1009.42" y="673.0" width="4" height="9.4" fill="#e60000"/><rect x="1014.27" y="683.0" width="4" height="28.4" fill="#e60000"/><rect x="1019.13" y="677.0" width="4" height="29.4" fill="#1424dc"/><rect x="1023.99" y="672.4" width="4" height="1.2" fill="#e60000"/><rect x="1028.85" y="681.4" width="4" height="3.6" fill="#e60000"/><rect x="1033.70" y="672.0" width="4" height="12.0" fill="#1424dc"/><rect x="1038.56" y="670.6" width="4" height="13.4" fill="#e60000"/><rect x="1043.42" y="683.0" width="4" height="6.4" fill="#e60000"/><rect x="1048.27" y="673.0" width="4" height="14.6" fill="#1424dc"/><rect x="1053.13" y="686.0" width="4" height="6.4" fill="#e60000"/><rect x="1057.99" y="691.0" width="4" height="12.0" fill="#e60000"/><rect x="1062.84" y="695.6" width="4" height="1.2" fill="#e60000"/><rect x="1067.70" y="681.0" width="4" height="11.6" fill="#1424dc"/><rect x="1072.56" y="664.6" width="4" height="9.4" fill="#1424dc"/><rect x="1077.41" y="669.0" width="4" height="9.0" fill="#e60000"/><rect x="1082.27" y="668.6" width="4" height="8.8" fill="#1424dc"/><rect x="1087.13" y="665.6" width="4" height="2.0" fill="#1424dc"/><rect x="1091.99" y="663.6" width="4" height="19.4" fill="#e60000"/><rect x="1096.84" y="670.0" width="4" height="14.6" fill="#1424dc"/><rect x="1101.70" y="663.0" width="4" height="5.4" fill="#1424dc"/><rect x="1106.56" y="673.4" width="4" height="1.2" fill="#1424dc"/><rect x="1111.41" y="677.4" width="4" height="3.2" fill="#e60000"/><rect x="1116.27" y="660.6" width="4" height="18.0" fill="#1424dc"/><rect x="1121.13" y="660.6" width="4" height="3.4" fill="#e60000"/><rect x="1125.99" y="663.6" width="4" height="8.0" fill="#e60000"/><rect x="1130.84" y="668.0" width="4" height="5.6" fill="#1424dc"/><rect x="1135.70" y="650.6" width="4" height="15.0" fill="#1424dc"/><rect x="1140.56" y="643.0" width="4" height="12.6" fill="#e60000"/><rect x="1145.41" y="656.0" width="4" height="18.0" fill="#e60000"/><rect x="1150.27" y="672.4" width="4" height="1.6" fill="#e60000"/><rect x="1155.13" y="672.4" width="4" height="3.0" fill="#e60000"/><rect x="1159.98" y="675.0" width="4" height="25.4" fill="#e60000"/><rect x="1164.84" y="684.4" width="4" height="16.0" fill="#1424dc"/><rect x="1169.70" y="684.4" width="4" height="5.0" fill="#e60000"/><rect x="1174.56" y="689.4" width="4" height="18.2" fill="#e60000"/><rect x="1179.41" y="705.4" width="4" height="8.6" fill="#e60000"/><rect x="1184.27" y="696.0" width="4" height="11.0" fill="#1424dc"/><rect x="1189.13" y="694.6" width="4" height="3.0" fill="#e60000"/><rect x="1193.98" y="696.0" width="4" height="1.4" fill="#e60000"/><rect x="1198.84" y="696.6" width="4" height="17.0" fill="#e60000"/><rect x="1203.70" y="712.0" width="4" height="5.0" fill="#e60000"/><rect x="1208.55" y="711.0" width="4" height="6.0" fill="#1424dc"/><rect x="1213.41" y="711.0" width="4" height="11.6" fill="#e60000"/><rect x="1218.27" y="722.4" width="4" height="4.6" fill="#1424dc"/><rect x="1223.12" y="722.4" width="4" height="12.0" fill="#e60000"/><rect x="1227.98" y="730.0" width="4" height="5.6" fill="#1424dc"/><rect x="1232.84" y="730.6" width="4" height="2.4" fill="#1424dc"/><rect x="1237.70" y="729.0" width="4" height="16.0" fill="#e60000"/><rect x="1242.55" y="743.0" width="4" height="1.8" fill="#1424dc"/><rect x="1247.41" y="741.4" width="4" height="21.6" fill="#e60000"/><rect x="1252.27" y="761.0" width="4" height="1.5" fill="#e60000"/><rect x="1257.12" y="763.0" width="4" height="13.4" fill="#e60000"/><rect x="1261.98" y="776.0" width="4" height="2.0" fill="#e60000"/><rect x="1266.84" y="777.8" width="4" height="18.2" fill="#e60000"/><rect x="1271.69" y="785.0" width="4" height="11.0" fill="#1424dc"/><rect x="1276.55" y="772.0" width="4" height="28.0" fill="#1424dc"/><rect x="1281.41" y="757.0" width="4" height="12.6" fill="#1424dc"/><rect x="1286.27" y="750.4" width="4" height="5.4" fill="#1424dc"/><rect x="1291.12" y="752.8" width="4" height="9.0" fill="#e60000"/><rect x="1295.98" y="761.2" width="4" height="9.4" fill="#e60000"/><rect x="1300.84" y="739.8" width="4" height="25.0" fill="#1424dc"/><rect x="1305.69" y="738.0" width="4" height="15.6" fill="#e60000"/><rect x="1310.55" y="750.4" width="4" height="4.4" fill="#e60000"/><rect x="1315.41" y="750.4" width="4" height="4.4" fill="#1424dc"/><rect x="1320.27" y="750.0" width="4" height="4.0" fill="#e60000"/><rect x="1325.12" y="755.2" width="4" height="8.8" fill="#e60000"/><rect x="1329.98" y="748.8" width="4" height="13.6" fill="#1424dc"/><rect x="1334.84" y="748.0" width="4" height="4.5" fill="#e60000"/><rect x="1339.69" y="752.2" width="4" height="6.3" fill="#e60000"/><rect x="1344.55" y="709.0" width="4" height="50.0" fill="#1424dc"/></g>
<g stroke="#e60000" stroke-width="1.65" stroke-linecap="butt">
<line x1="132" y1="190.0" x2="655.5" y2="411.4"/>
<line x1="841.7" y1="490.2" x2="1366" y2="711.9"/>
</g>
<line x1="190" y1="613.1" x2="1293.5" y2="802.8" stroke="#1424dc" stroke-width="1.7"/>
<g transform="translate(749.0,450.9) rotate(22.93)">
<text x="0" y="4.6" font-size="14.5" font-style="italic" font-weight="normal" fill="#000" stroke="#000" stroke-width="0.7" text-anchor="middle" textLength="192" lengthAdjust="spacingAndGlyphs">Falling Wedge Pattern [5 Years]</text>
</g>
<rect x="148.8" y="826.6" width="14.6" height="14.6" rx="2.2" fill="#fff" stroke="#4d4d4d" stroke-width="1.5"/>
<text x="153.5" y="837.9" font-size="10.5" fill="#505050" font-weight="normal" text-anchor="start" textLength="5.3" lengthAdjust="spacingAndGlyphs" stroke="#505050" stroke-width="0.5">E</text>
<rect x="217.8" y="826.6" width="14.6" height="14.6" rx="2.2" fill="#fff" stroke="#4d4d4d" stroke-width="1.5"/>
<text x="222.5" y="837.9" font-size="10.5" fill="#505050" font-weight="normal" text-anchor="start" textLength="5.3" lengthAdjust="spacingAndGlyphs" stroke="#505050" stroke-width="0.5">E</text>
<rect x="294.8" y="826.6" width="14.6" height="14.6" rx="2.2" fill="#fff" stroke="#4d4d4d" stroke-width="1.5"/>
<text x="299.5" y="837.9" font-size="10.5" fill="#505050" font-weight="normal" text-anchor="start" textLength="5.3" lengthAdjust="spacingAndGlyphs" stroke="#505050" stroke-width="0.5">E</text>
<rect x="343.8" y="826.6" width="14.6" height="14.6" rx="2.2" fill="#fff" stroke="#4d4d4d" stroke-width="1.5"/>
<text x="348.5" y="837.9" font-size="10.5" fill="#505050" font-weight="normal" text-anchor="start" textLength="5.3" lengthAdjust="spacingAndGlyphs" stroke="#505050" stroke-width="0.5">E</text>
<rect x="397.2" y="826.6" width="14.6" height="14.6" rx="2.2" fill="#fff" stroke="#4d4d4d" stroke-width="1.5"/>
<text x="401.9" y="837.9" font-size="10.5" fill="#505050" font-weight="normal" text-anchor="start" textLength="5.3" lengthAdjust="spacingAndGlyphs" stroke="#505050" stroke-width="0.5">E</text>
<rect x="469.8" y="826.6" width="14.6" height="14.6" rx="2.2" fill="#fff" stroke="#4d4d4d" stroke-width="1.5"/>
<text x="474.5" y="837.9" font-size="10.5" fill="#505050" font-weight="normal" text-anchor="start" textLength="5.3" lengthAdjust="spacingAndGlyphs" stroke="#505050" stroke-width="0.5">E</text>
<rect x="541.8" y="826.6" width="14.6" height="14.6" rx="2.2" fill="#fff" stroke="#4d4d4d" stroke-width="1.5"/>
<text x="546.5" y="837.9" font-size="10.5" fill="#505050" font-weight="normal" text-anchor="start" textLength="5.3" lengthAdjust="spacingAndGlyphs" stroke="#505050" stroke-width="0.5">E</text>
<rect x="595.8" y="826.6" width="14.6" height="14.6" rx="2.2" fill="#fff" stroke="#4d4d4d" stroke-width="1.5"/>
<text x="600.5" y="837.9" font-size="10.5" fill="#505050" font-weight="normal" text-anchor="start" textLength="5.3" lengthAdjust="spacingAndGlyphs" stroke="#505050" stroke-width="0.5">E</text>
<rect x="659.8" y="826.6" width="14.6" height="14.6" rx="2.2" fill="#fff" stroke="#4d4d4d" stroke-width="1.5"/>
<text x="664.5" y="837.9" font-size="10.5" fill="#505050" font-weight="normal" text-anchor="start" textLength="5.3" lengthAdjust="spacingAndGlyphs" stroke="#505050" stroke-width="0.5">E</text>
<rect x="717.0" y="826.6" width="14.6" height="14.6" rx="2.2" fill="#fff" stroke="#4d4d4d" stroke-width="1.5"/>
<text x="721.7" y="837.9" font-size="10.5" fill="#505050" font-weight="normal" text-anchor="start" textLength="5.3" lengthAdjust="spacingAndGlyphs" stroke="#505050" stroke-width="0.5">E</text>
<rect x="796.0" y="826.6" width="14.6" height="14.6" rx="2.2" fill="#fff" stroke="#4d4d4d" stroke-width="1.5"/>
<text x="800.7" y="837.9" font-size="10.5" fill="#505050" font-weight="normal" text-anchor="start" textLength="5.3" lengthAdjust="spacingAndGlyphs" stroke="#505050" stroke-width="0.5">E</text>
<rect x="849.0" y="826.6" width="14.6" height="14.6" rx="2.2" fill="#fff" stroke="#4d4d4d" stroke-width="1.5"/>
<text x="853.7" y="837.9" font-size="10.5" fill="#505050" font-weight="normal" text-anchor="start" textLength="5.3" lengthAdjust="spacingAndGlyphs" stroke="#505050" stroke-width="0.5">E</text>
<rect x="912.2" y="826.6" width="14.6" height="14.6" rx="2.2" fill="#fff" stroke="#4d4d4d" stroke-width="1.5"/>
<text x="916.9" y="837.9" font-size="10.5" fill="#505050" font-weight="normal" text-anchor="start" textLength="5.3" lengthAdjust="spacingAndGlyphs" stroke="#505050" stroke-width="0.5">E</text>
<rect x="975.2" y="826.6" width="14.6" height="14.6" rx="2.2" fill="#fff" stroke="#4d4d4d" stroke-width="1.5"/>
<text x="979.9" y="837.9" font-size="10.5" fill="#505050" font-weight="normal" text-anchor="start" textLength="5.3" lengthAdjust="spacingAndGlyphs" stroke="#505050" stroke-width="0.5">E</text>
<rect x="1043.2" y="826.6" width="14.6" height="14.6" rx="2.2" fill="#fff" stroke="#4d4d4d" stroke-width="1.5"/>
<text x="1047.9" y="837.9" font-size="10.5" fill="#505050" font-weight="normal" text-anchor="start" textLength="5.3" lengthAdjust="spacingAndGlyphs" stroke="#505050" stroke-width="0.5">E</text>
<rect x="1097.0" y="826.6" width="14.6" height="14.6" rx="2.2" fill="#fff" stroke="#4d4d4d" stroke-width="1.5"/>
<text x="1101.7" y="837.9" font-size="10.5" fill="#505050" font-weight="normal" text-anchor="start" textLength="5.3" lengthAdjust="spacingAndGlyphs" stroke="#505050" stroke-width="0.5">E</text>
<rect x="1158.8" y="826.6" width="14.6" height="14.6" rx="2.2" fill="#fff" stroke="#4d4d4d" stroke-width="1.5"/>
<text x="1163.5" y="837.9" font-size="10.5" fill="#505050" font-weight="normal" text-anchor="start" textLength="5.3" lengthAdjust="spacingAndGlyphs" stroke="#505050" stroke-width="0.5">E</text>
<rect x="1233.2" y="826.6" width="14.6" height="14.6" rx="2.2" fill="#fff" stroke="#4d4d4d" stroke-width="1.5"/>
<text x="1237.9" y="837.9" font-size="10.5" fill="#505050" font-weight="normal" text-anchor="start" textLength="5.3" lengthAdjust="spacingAndGlyphs" stroke="#505050" stroke-width="0.5">E</text>
<rect x="1295.2" y="826.6" width="14.6" height="14.6" rx="2.2" fill="#fff" stroke="#4d4d4d" stroke-width="1.5"/>
<text x="1299.9" y="837.9" font-size="10.5" fill="#505050" font-weight="normal" text-anchor="start" textLength="5.3" lengthAdjust="spacingAndGlyphs" stroke="#505050" stroke-width="0.5">E</text>
<rect x="1359.2" y="826.6" width="14.6" height="14.6" rx="2.2" fill="#fff" stroke="#e040fb" stroke-width="1.5"/>
<text x="1363.9" y="837.9" font-size="10.5" fill="#e46bfb" font-weight="normal" text-anchor="start" textLength="5.3" lengthAdjust="spacingAndGlyphs" stroke="#e46bfb" stroke-width="0.5">E</text>
<line x1="8" y1="844.7" x2="1591" y2="844.7" stroke="#474747" stroke-width="1"/>
<line x1="1527.6" y1="22" x2="1527.6" y2="877" stroke="#4a4a4a" stroke-width="1.1"/>
<text x="1537.8" y="755.6" font-size="14" fill="#0e0e12" font-weight="normal" text-anchor="start" textLength="43.7" lengthAdjust="spacingAndGlyphs" stroke="#0e0e12" stroke-width="0.32">200.00</text>
<text x="1537.8" y="703.8" font-size="14" fill="#0e0e12" font-weight="normal" text-anchor="start" textLength="43.7" lengthAdjust="spacingAndGlyphs" stroke="#0e0e12" stroke-width="0.32">240.00</text>
<text x="1537.8" y="652.1" font-size="14" fill="#0e0e12" font-weight="normal" text-anchor="start" textLength="43.7" lengthAdjust="spacingAndGlyphs" stroke="#0e0e12" stroke-width="0.32">280.00</text>
<text x="1537.8" y="600.3" font-size="14" fill="#0e0e12" font-weight="normal" text-anchor="start" textLength="43.7" lengthAdjust="spacingAndGlyphs" stroke="#0e0e12" stroke-width="0.32">320.00</text>
<text x="1537.8" y="548.6" font-size="14" fill="#0e0e12" font-weight="normal" text-anchor="start" textLength="43.7" lengthAdjust="spacingAndGlyphs" stroke="#0e0e12" stroke-width="0.32">360.00</text>
<text x="1537.8" y="496.9" font-size="14" fill="#0e0e12" font-weight="normal" text-anchor="start" textLength="43.7" lengthAdjust="spacingAndGlyphs" stroke="#0e0e12" stroke-width="0.32">400.00</text>
<text x="1537.8" y="445.1" font-size="14" fill="#0e0e12" font-weight="normal" text-anchor="start" textLength="43.7" lengthAdjust="spacingAndGlyphs" stroke="#0e0e12" stroke-width="0.32">440.00</text>
<text x="1537.8" y="393.4" font-size="14" fill="#0e0e12" font-weight="normal" text-anchor="start" textLength="43.7" lengthAdjust="spacingAndGlyphs" stroke="#0e0e12" stroke-width="0.32">480.00</text>
<text x="1537.8" y="341.6" font-size="14" fill="#0e0e12" font-weight="normal" text-anchor="start" textLength="43.7" lengthAdjust="spacingAndGlyphs" stroke="#0e0e12" stroke-width="0.32">520.00</text>
<text x="1537.8" y="289.9" font-size="14" fill="#0e0e12" font-weight="normal" text-anchor="start" textLength="43.7" lengthAdjust="spacingAndGlyphs" stroke="#0e0e12" stroke-width="0.32">560.00</text>
<text x="1537.8" y="238.2" font-size="14" fill="#0e0e12" font-weight="normal" text-anchor="start" textLength="43.7" lengthAdjust="spacingAndGlyphs" stroke="#0e0e12" stroke-width="0.32">600.00</text>
<text x="1537.8" y="186.4" font-size="14" fill="#0e0e12" font-weight="normal" text-anchor="start" textLength="43.7" lengthAdjust="spacingAndGlyphs" stroke="#0e0e12" stroke-width="0.32">640.00</text>
<text x="1537.8" y="134.7" font-size="14" fill="#0e0e12" font-weight="normal" text-anchor="start" textLength="43.7" lengthAdjust="spacingAndGlyphs" stroke="#0e0e12" stroke-width="0.32">680.00</text>
<text x="1537.8" y="82.9" font-size="14" fill="#0e0e12" font-weight="normal" text-anchor="start" textLength="43.7" lengthAdjust="spacingAndGlyphs" stroke="#0e0e12" stroke-width="0.32">720.00</text>
<rect x="1488" y="52.6" width="38" height="22" rx="1.5" fill="#e3effd"/>
<rect x="1529.7" y="52.6" width="58" height="22" rx="1.5" fill="#e3effd"/>
<text x="1493.7" y="68.6" font-size="14" fill="#0e0e12" font-weight="normal" text-anchor="start" textLength="27.8" lengthAdjust="spacingAndGlyphs" stroke="#0e0e12" stroke-width="0.32">High</text>
<text x="1537.8" y="68.6" font-size="14" fill="#0e0e12" font-weight="normal" text-anchor="start" textLength="43.7" lengthAdjust="spacingAndGlyphs" stroke="#0e0e12" stroke-width="0.32">731.25</text>
<rect x="1490.3" y="791.6" width="35.7" height="22" rx="1.5" fill="#e3effd"/>
<rect x="1529.7" y="791.6" width="58" height="22" rx="1.5" fill="#e3effd"/>
<text x="1496.5" y="807.7" font-size="14" fill="#0e0e12" font-weight="normal" text-anchor="start" textLength="25.8" lengthAdjust="spacingAndGlyphs" stroke="#0e0e12" stroke-width="0.32">Low</text>
<text x="1538.2" y="807.7" font-size="14" fill="#0e0e12" font-weight="normal" text-anchor="start" textLength="43.7" lengthAdjust="spacingAndGlyphs" stroke="#0e0e12" stroke-width="0.32">160.00</text>
<rect x="1531.5" y="26" width="57" height="20.5" rx="3" fill="#fff" stroke="#ececec" stroke-width="1"/>
<text x="1538.3" y="40.3" font-size="10" fill="#0e0e12" font-weight="normal" text-anchor="start" textLength="15.5" lengthAdjust="spacingAndGlyphs" stroke="#0e0e12" stroke-width="0.2">INR</text>
<text x="183.4" y="865.0" font-size="14" fill="#0e0e12" font-weight="bold" text-anchor="start" textLength="33.2" lengthAdjust="spacingAndGlyphs">2021</text>
<text x="317.0" y="865.0" font-size="14" fill="#0e0e12" font-weight="normal" text-anchor="start" textLength="18.6" lengthAdjust="spacingAndGlyphs" stroke="#0e0e12" stroke-width="0.32">Jul</text>
<text x="436.0" y="865.0" font-size="14" fill="#0e0e12" font-weight="bold" text-anchor="start" textLength="33.2" lengthAdjust="spacingAndGlyphs">2022</text>
<text x="569.5" y="865.0" font-size="14" fill="#0e0e12" font-weight="normal" text-anchor="start" textLength="18.6" lengthAdjust="spacingAndGlyphs" stroke="#0e0e12" stroke-width="0.32">Jul</text>
<text x="688.5" y="865.0" font-size="14" fill="#0e0e12" font-weight="bold" text-anchor="start" textLength="33.2" lengthAdjust="spacingAndGlyphs">2023</text>
<text x="822.1" y="865.0" font-size="14" fill="#0e0e12" font-weight="normal" text-anchor="start" textLength="18.6" lengthAdjust="spacingAndGlyphs" stroke="#0e0e12" stroke-width="0.32">Jul</text>
<text x="941.1" y="865.0" font-size="14" fill="#0e0e12" font-weight="bold" text-anchor="start" textLength="33.2" lengthAdjust="spacingAndGlyphs">2024</text>
<text x="1074.7" y="865.0" font-size="14" fill="#0e0e12" font-weight="normal" text-anchor="start" textLength="18.6" lengthAdjust="spacingAndGlyphs" stroke="#0e0e12" stroke-width="0.32">Jul</text>
<text x="1198.5" y="865.0" font-size="14" fill="#0e0e12" font-weight="bold" text-anchor="start" textLength="33.2" lengthAdjust="spacingAndGlyphs">2025</text>
<text x="1332.1" y="865.0" font-size="14" fill="#0e0e12" font-weight="normal" text-anchor="start" textLength="18.6" lengthAdjust="spacingAndGlyphs" stroke="#0e0e12" stroke-width="0.32">Jul</text>
<text x="1451.1" y="865.0" font-size="14" fill="#0e0e12" font-weight="bold" text-anchor="start" textLength="33.2" lengthAdjust="spacingAndGlyphs">2026</text>
<text x="8.0" y="15.5" font-size="10.1" fill="#0e0e12" font-weight="normal" text-anchor="start" textLength="327.0" lengthAdjust="spacingAndGlyphs" stroke="#0e0e12" stroke-width="0.2">Mr_Chartist_ created with TradingView.com, Jul 20, 2025 23:51 UTC+5:30</text>
<text x="15.0" y="37.7" font-size="10.1" fill="#0e0e12" font-weight="normal" text-anchor="start" textLength="176.7" lengthAdjust="spacingAndGlyphs" stroke="#0e0e12" stroke-width="0.2">CHEMCON SPECIAL CHEM LTD · 1W · NSE</text>
<text x="199.0" y="37.7" font-size="10.1" fill="#0e0e12" font-weight="normal" text-anchor="start" textLength="5.8" lengthAdjust="spacingAndGlyphs" stroke="#0e0e12" stroke-width="0.2">O</text>
<text x="206.0" y="37.7" font-size="10.1" fill="#2a3eea" font-weight="normal" text-anchor="start" textLength="28.5" lengthAdjust="spacingAndGlyphs" stroke="#2a3eea" stroke-width="0.2">194.00</text>
<text x="241.0" y="37.7" font-size="10.1" fill="#0e0e12" font-weight="normal" text-anchor="start" textLength="5.5" lengthAdjust="spacingAndGlyphs" stroke="#0e0e12" stroke-width="0.2">H</text>
<text x="247.7" y="37.7" font-size="10.1" fill="#2a3eea" font-weight="normal" text-anchor="start" textLength="29.0" lengthAdjust="spacingAndGlyphs" stroke="#2a3eea" stroke-width="0.2">238.00</text>
<text x="283.3" y="37.7" font-size="10.1" fill="#0e0e12" font-weight="normal" text-anchor="start" textLength="4.2" lengthAdjust="spacingAndGlyphs" stroke="#0e0e12" stroke-width="0.2">L</text>
<text x="288.7" y="37.7" font-size="10.1" fill="#2a3eea" font-weight="normal" text-anchor="start" textLength="28.5" lengthAdjust="spacingAndGlyphs" stroke="#2a3eea" stroke-width="0.2">192.98</text>
<text x="323.6" y="37.7" font-size="10.1" fill="#0e0e12" font-weight="normal" text-anchor="start" textLength="5.2" lengthAdjust="spacingAndGlyphs" stroke="#0e0e12" stroke-width="0.2">C</text>
<text x="330.0" y="37.7" font-size="10.1" fill="#2a3eea" font-weight="normal" text-anchor="start" textLength="28.6" lengthAdjust="spacingAndGlyphs" stroke="#2a3eea" stroke-width="0.2">232.07</text>
<text x="364.5" y="37.7" font-size="10.1" fill="#2a3eea" font-weight="normal" text-anchor="start" textLength="75.5" lengthAdjust="spacingAndGlyphs" stroke="#2a3eea" stroke-width="0.2">+37.28 (+19.14%)</text>
<text x="446.5" y="37.7" font-size="10.1" fill="#0e0e12" font-weight="normal" text-anchor="start" textLength="13.0" lengthAdjust="spacingAndGlyphs" stroke="#0e0e12" stroke-width="0.2">Vol</text>
<text x="460.2" y="37.7" font-size="10.1" fill="#2a3eea" font-weight="normal" text-anchor="start" textLength="27.3" lengthAdjust="spacingAndGlyphs" stroke="#2a3eea" stroke-width="0.2">1.38M</text>
<text x="493.0" y="37.7" font-size="10.1" fill="#2a3eea" font-weight="normal" text-anchor="start" textLength="64.5" lengthAdjust="spacingAndGlyphs" stroke="#2a3eea" stroke-width="0.2">+4.27 (+1.87%)</text>
<text x="15.0" y="51.9" font-size="10.1" fill="#0e0e12" font-weight="normal" text-anchor="start" textLength="12.7" lengthAdjust="spacingAndGlyphs" stroke="#0e0e12" stroke-width="0.2">Vol</text>
<text x="34.5" y="51.9" font-size="10.1" fill="#2a3eea" font-weight="normal" text-anchor="start" textLength="27.5" lengthAdjust="spacingAndGlyphs" stroke="#2a3eea" stroke-width="0.2">1.38M</text>
<g fill="#111">
<path d="M8.1 887.4 H14.3 V895.3 H11.1 V890.1 H8.1 Z"/>
<circle cx="17.3" cy="888.8" r="1.35"/>
<path d="M19.9 887.4 H24.3 L20.9 895.3 H16.7 Z"/>
</g>
<text x="27.4" y="895.4" font-size="10.5" fill="#1a1a1a" font-weight="normal" text-anchor="start" textLength="57.7" lengthAdjust="spacingAndGlyphs" stroke="#1a1a1a" stroke-width="0.2">TradingView</text>
</svg>
</body></html>
